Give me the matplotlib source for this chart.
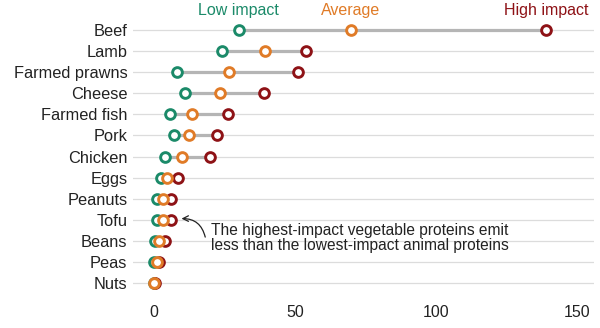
import numpy as np
import matplotlib.pyplot as plt

plt.rcParams['font.family'] = ['Liberation Sans', 'DejaVu Sans']

# 데이터 (위에서 아래 순서)
foods = ['Beef', 'Lamb', 'Farmed prawns', 'Cheese', 'Farmed fish', 'Pork', 'Chicken',
         'Eggs', 'Peanuts', 'Tofu', 'Beans', 'Peas', 'Nuts']
low = [30, 24.3, 8.2, 11, 5.7, 7.3, 4.1, 2.6, 1.2, 1.2, 0.5, 0.0, 0.0]
average = [69.7, 39.5, 26.6, 23.6, 13.5, 12.3, 9.8, 4.7, 3.2, 3.3, 1.9, 1.1, 0.2]
high = [139, 53.9, 51, 39, 26.2, 22.2, 19.9, 8.6, 5.9, 5.9, 4.0, 1.8, 0.3]
xticks = [0, 50, 100, 150]

c_low = '#1b8a69'
c_avg = '#e07b27'
c_high = '#8e1216'

fig = plt.figure(figsize=(6, 3.28), dpi=100)
ax = fig.add_axes([0.2217, 0.0985, 0.7683, 0.8487])

n = len(foods)
y = np.arange(n)[::-1]

# 그리드선
for yy in y:
    ax.axhline(yy, color='#dcdcdc', lw=0.9, zorder=0)

# 최저-최고 연결선
ax.hlines(y, low, high, color='#b5b5b5', lw=2.3, zorder=1)

mk = dict(marker='o', markersize=7, markeredgewidth=2.1, markerfacecolor='white',
          linestyle='none', zorder=3)
ax.plot(low, y, markeredgecolor=c_low, **mk)
ax.plot(high, y, markeredgecolor=c_high, **mk)
ax.plot(average, y, markeredgecolor=c_avg, **mk)

# 상단 라벨
ax.text(low[0], 12.9, 'Low impact', color=c_low, fontsize=11.5, ha='center', va='center', clip_on=False)
ax.text(average[0], 12.9, 'Average', color=c_avg, fontsize=11.5, ha='center', va='center', clip_on=False)
ax.text(high[0], 12.9, 'High impact', color=c_high, fontsize=11.5, ha='center', va='center', clip_on=False)

# 주석
ax.text(20.2, 2.12, 'The highest-impact vegetable proteins emit\nless than the lowest-impact animal proteins',
        fontsize=11.2, ha='left', va='center', color='#222222', linespacing=1.0)
ax.annotate('', xy=(8.8, 3.05), xytext=(18.4, 2.05),
            arrowprops=dict(arrowstyle='->', color='#222222', lw=0.9,
                            connectionstyle='arc3,rad=0.45'))

ax.set_xlim(-7.4, 156)
ax.set_ylim(-0.6, n - 0.4)
ax.set_yticks(y)
ax.set_yticklabels(foods, fontsize=11.8, color='#222222')
ax.set_xticks(xticks)
ax.set_xticklabels([str(t) for t in xticks], fontsize=11.5, color='#222222')
ax.tick_params(length=0)
ax.tick_params(axis='y', pad=4)
ax.tick_params(axis='x', pad=7)
for s in ax.spines.values():
    s.set_visible(False)

fig.savefig('out.png', dpi=100)
